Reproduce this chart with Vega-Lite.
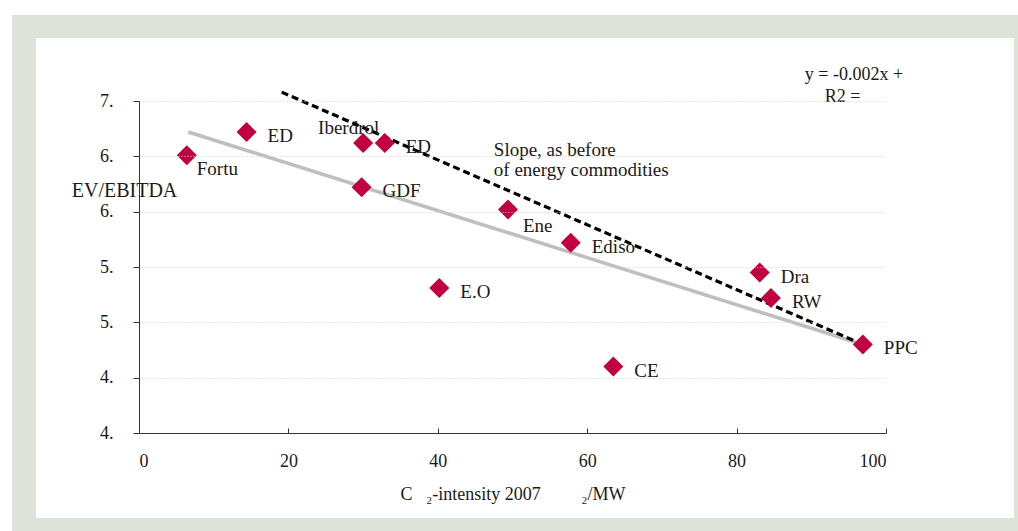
{
  "$schema": "https://vega.github.io/schema/vega-lite/v6.json",
  "width": 747,
  "height": 332,
  "autosize": {"type": "none"},
  "padding": {"left": 139, "top": 101, "right": 132, "bottom": 98},
  "background": "white",
  "config": {
    "view": {"stroke": null},
    "font": "Liberation Serif"
  },
  "datasets": {
    "firms": [
      {"name": "Fortu", "x": 6.4, "y": 6.51},
      {"name": "ED", "x": 14.4, "y": 6.72},
      {"name": "Iberdrol", "x": 30.0, "y": 6.62},
      {"name": "ED", "x": 32.9, "y": 6.62},
      {"name": "GDF", "x": 29.8, "y": 6.22},
      {"name": "E.O", "x": 40.2, "y": 5.31},
      {"name": "Ene", "x": 49.4, "y": 6.02},
      {"name": "Ediso", "x": 57.8, "y": 5.72},
      {"name": "CE", "x": 63.5, "y": 4.60},
      {"name": "Dra", "x": 83.1, "y": 5.45},
      {"name": "RW", "x": 84.6, "y": 5.22},
      {"name": "PPC", "x": 96.9, "y": 4.80}
    ],
    "fit": [
      {"x": 6.6, "y": 6.72},
      {"x": 96.9, "y": 4.80}
    ],
    "slope": [
      {"x": 19.1, "y": 7.08},
      {"x": 96.9, "y": 4.80}
    ],
    "notes": [
      {"label": "Slope, as before", "x": 47.5, "y": 6.557},
      {"label": "of energy commodities", "x": 47.5, "y": 6.377}
    ],
    "eq": [
      {"label": "y = -0.002x +", "x": 95.7, "y": 7.235},
      {"label": "R2 =", "x": 94.2, "y": 7.039}
    ]
  },
  "layer": [
    {
      "data": {"values": [{}]},
      "mark": {"type": "rect", "color": "#dde3d9"},
      "encoding": {
        "x": {"datum": -17.0, "type": "quantitative"},
        "x2": {"datum": 117.67},
        "y": {"datum": 7.777, "type": "quantitative"},
        "y2": {"datum": 3.115}
      }
    },
    {
      "data": {"values": [{}]},
      "mark": {"type": "rect", "color": "#ffffff"},
      "encoding": {
        "x": {"datum": -13.79, "type": "quantitative"},
        "x2": {"datum": 117.14},
        "y": {"datum": 7.569, "type": "quantitative"},
        "y2": {"datum": 3.232}
      }
    },
    {
      "data": {"name": "fit"},
      "mark": {"type": "line", "color": "#bfbfbf", "strokeWidth": 3.5},
      "encoding": {
        "x": {"field": "x", "type": "quantitative"},
        "y": {"field": "y", "type": "quantitative"}
      }
    },
    {
      "data": {"name": "slope"},
      "mark": {"type": "line", "color": "#000000", "strokeWidth": 3.2, "strokeDash": [7, 4]},
      "encoding": {
        "x": {"field": "x", "type": "quantitative"},
        "y": {"field": "y", "type": "quantitative"}
      }
    },
    {
      "data": {"name": "firms"},
      "mark": {"type": "point", "shape": "diamond", "filled": true, "color": "#c3003f", "size": 400, "opacity": 1},
      "encoding": {
        "x": {
          "field": "x",
          "type": "quantitative",
          "scale": {"domain": [0, 100], "nice": false, "zero": false},
          "axis": {
            "zindex": 1,
            "title": "C\u00a0\u00a0\u00a0₂-intensity 2007\u00a0\u00a0\u00a0\u00a0\u00a0\u00a0\u00a0\u00a0\u00a0₂/MW",
            "values": [0, 20, 40, 60, 80, 100],
            "grid": false,
            "domainColor": "#333333",
            "tickColor": "#333333",
            "tickSize": -5,
            "labelPadding": 24,
            "labelFontSize": 18,
            "labelColor": "#1a1a1a",
            "labelFont": "Liberation Serif",
            "titleFont": "Liberation Serif",
            "titleFontSize": 18,
            "titleFontWeight": "normal",
            "titleColor": "#1a1a1a",
            "titlePadding": 15
          }
        },
        "y": {
          "field": "y",
          "type": "quantitative",
          "scale": {"domain": [4, 7], "nice": false, "zero": false},
          "axis": {
            "zindex": 1,
            "title": "EV/EBITDA",
            "values": [4, 4.5, 5, 5.5, 6, 6.5, 7],
            "labelExpr": "floor(datum.value) + '.'",
            "grid": true,
            "gridColor": "#d0d0d0",
            "gridDash": [1, 2],
            "gridWidth": 1,
            "domainColor": "#333333",
            "tickColor": "#333333",
            "tickSize": 6,
            "labelPadding": 20,
            "labelFontSize": 18,
            "labelColor": "#1a1a1a",
            "labelFont": "Liberation Serif",
            "titleFont": "Liberation Serif",
            "titleFontSize": 20,
            "titleFontWeight": "normal",
            "titleColor": "#1a1a1a",
            "titleAngle": 0,
            "titleAlign": "center",
            "titleBaseline": "middle",
            "titleX": -15,
            "titleY": 89
          }
        }
      }
    },
    {
      "data": {"name": "firms"},
      "transform": [{"filter": "datum.name !== 'Fortu' && datum.name !== 'Ene' && datum.name !== 'Iberdrol'"}],
      "mark": {"type": "text", "align": "left", "baseline": "middle", "dx": 21, "dy": 4, "fontSize": 19, "font": "Liberation Serif", "color": "#1a1a1a"},
      "encoding": {
        "x": {"field": "x", "type": "quantitative"},
        "y": {"field": "y", "type": "quantitative"},
        "text": {"field": "name"}
      }
    },
    {
      "data": {"name": "firms"},
      "transform": [{"filter": "datum.name === 'Fortu'"}],
      "mark": {"type": "text", "align": "left", "baseline": "middle", "dx": 10, "dy": 14, "fontSize": 19, "font": "Liberation Serif", "color": "#1a1a1a"},
      "encoding": {
        "x": {"field": "x", "type": "quantitative"},
        "y": {"field": "y", "type": "quantitative"},
        "text": {"field": "name"}
      }
    },
    {
      "data": {"name": "firms"},
      "transform": [{"filter": "datum.name === 'Ene'"}],
      "mark": {"type": "text", "align": "left", "baseline": "middle", "dx": 15, "dy": 17, "fontSize": 19, "font": "Liberation Serif", "color": "#1a1a1a"},
      "encoding": {
        "x": {"field": "x", "type": "quantitative"},
        "y": {"field": "y", "type": "quantitative"},
        "text": {"field": "name"}
      }
    },
    {
      "data": {"name": "firms"},
      "transform": [{"filter": "datum.name === 'Iberdrol'"}],
      "mark": {"type": "text", "align": "left", "baseline": "middle", "dx": -45, "dy": -15, "fontSize": 19, "font": "Liberation Serif", "color": "#1a1a1a"},
      "encoding": {
        "x": {"field": "x", "type": "quantitative"},
        "y": {"field": "y", "type": "quantitative"},
        "text": {"field": "name"}
      }
    },
    {
      "data": {"name": "notes"},
      "mark": {"type": "text", "align": "left", "baseline": "middle", "fontSize": 19, "font": "Liberation Serif", "color": "#1a1a1a"},
      "encoding": {
        "x": {"field": "x", "type": "quantitative"},
        "y": {"field": "y", "type": "quantitative"},
        "text": {"field": "label"}
      }
    },
    {
      "data": {"name": "eq"},
      "mark": {"type": "text", "align": "center", "baseline": "middle", "fontSize": 18, "font": "Liberation Serif", "color": "#1a1a1a"},
      "encoding": {
        "x": {"field": "x", "type": "quantitative"},
        "y": {"field": "y", "type": "quantitative"},
        "text": {"field": "label"}
      }
    }
  ]
}
